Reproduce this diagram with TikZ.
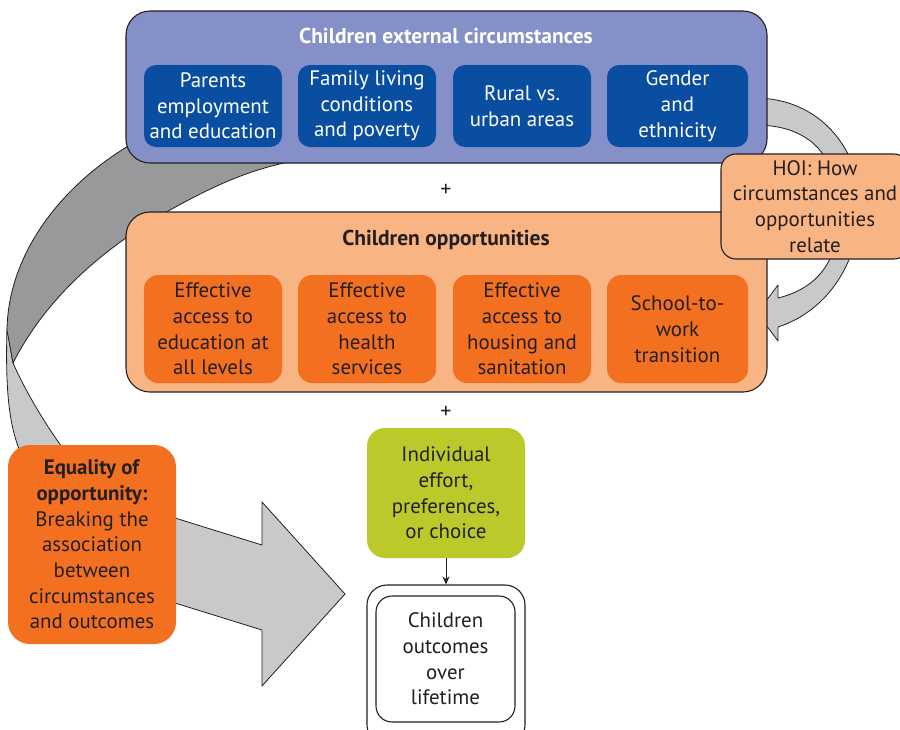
\documentclass[tikz,border=0pt]{standalone}
\usepackage{fontspec}
\setmainfont{PT Sans}
\usetikzlibrary{arrows.meta}
\definecolor{bluebg}{HTML}{8590C8}
\definecolor{blueinner}{HTML}{0A4EA2}
\definecolor{peach}{HTML}{F9B483}
\definecolor{orng}{HTML}{F37021}
\definecolor{lime}{HTML}{BCC92A}
\definecolor{dgray}{HTML}{98999B}
\definecolor{lgray}{HTML}{C8C9CB}
\definecolor{ink}{HTML}{231F20}
\begin{document}
\begin{tikzpicture}[x=1pt,y=-1pt,
  txt/.style={font=\fontsize{20.9}{25.7}\selectfont, align=center, text=ink, inner sep=0pt},
  ttl/.style={font=\fontsize{21.5}{24}\selectfont\bfseries, inner sep=0pt},
  bigbox/.style={draw=ink, line width=1.1pt, rounded corners=24pt, inner sep=0pt},
  bluecell/.style={txt, text=white, fill=blueinner, rounded corners=12pt, minimum width=138pt, minimum height=82pt},
  orcell/.style={txt, fill=orng, rounded corners=14pt, minimum width=138pt, minimum height=108pt},
  ribbon/.style={draw=ink, line width=0.8pt, line join=round},
  plussign/.style={font=\fontsize{22}{24}\selectfont, text=ink, inner sep=0pt}
]
\useasboundingbox (0,0) rectangle (900,729);
\fill[white] (0,0) rectangle (900,729);

% right curved arrow (behind boxes)
\path[ribbon, fill=lgray] (755,98) .. controls (820,98) and (862,150) .. (860,210)
  .. controls (858,260) and (830,310) .. (778,327) -- (778,341) -- (757,313) -- (778,285) -- (778,298)
  .. controls (810,290) and (835,270) .. (838,225)
  .. controls (842,170) and (822,125) .. (755,125) -- cycle;

% left ribbon: light (front) part with arrow head
\path[ribbon, fill=lgray] (7,328) .. controls (5,400) and (10,440) .. (30,470) -- (175,518) -- (262,545)
  -- (262,502) -- (345,594) -- (262,686) -- (262,630) -- (175,603) -- (70,458)
  .. controls (45,425) and (25,390) .. (13,363) -- cycle;
% left ribbon: dark (back) part
\path[ribbon, fill=dgray] (200,118) -- (135,142) .. controls (60,185) and (8,255) .. (7,330)
  -- (13,363) .. controls (45,300) and (100,250) .. (170,210)
  .. controls (210,188) and (250,168) .. (300,160) -- (300,120) -- cycle;

% external circumstances
\node[bigbox, fill=bluebg, minimum width=641pt, minimum height=152pt] (ext) at (446.5,87) {};
\node[ttl, text=white] (extt) at (446,36) {Children external circumstances};
\node[bluecell] (c1) at (213,106) {Parents\\employment\\and education};
\node[bluecell] (c2) at (367,106) {Family living\\conditions\\and poverty};
\node[bluecell] (c3) at (522,106) {Rural vs.\\urban areas};
\node[bluecell, minimum width=141pt] (c4) at (677.5,106) {Gender\\and\\ethnicity};

\node[plussign] (plus1) at (446,190.5) {+};

% opportunities
\node[bigbox, fill=peach, minimum width=641pt, minimum height=180pt] (opp) at (446.5,302) {};
\node[ttl, text=ink] (oppt) at (446,240) {Children opportunities};
\node[orcell] (o1) at (213,329) {Effective\\access to\\education at\\all levels};
\node[orcell] (o2) at (367,329) {Effective\\access to\\health\\services};
\node[orcell] (o3) at (522,329) {Effective\\access to\\housing and\\sanitation};
\node[orcell, minimum width=141pt] (o4) at (677.5,329) {School-to-\\work\\transition};

% HOI
\node[txt, draw=ink, line width=1.1pt, fill=peach, rounded corners=15pt, minimum width=188pt, minimum height=105pt] (hoi) at (815,206.5) {HOI: How\\circumstances and\\opportunities\\relate};

\node[plussign] (plus2) at (446,412) {+};

% individual effort
\node[txt, fill=lime, rounded corners=18pt, minimum width=158pt, minimum height=130pt] (eff) at (446,493) {Individual\\effort,\\preferences,\\or choice};

% outcomes (double border)
\node[draw=ink, line width=1.1pt, fill=white, rounded corners=20pt, minimum width=158pt, minimum height=160pt, inner sep=0pt] (outo) at (446,665) {};
\node[txt, draw=ink, line width=1.1pt, rounded corners=16pt, minimum width=139pt, minimum height=126pt] (out) at (445.5,659) {Children\\outcomes\\over\\lifetime};

\draw[ink, line width=1pt, -{Stealth[length=8pt,width=7pt]}] (eff.south) -- (outo.north);

% equality of opportunity
\node[txt, fill=orng, rounded corners=22pt, minimum width=168pt, minimum height=199pt] (eq) at (92,544.5) {\textbf{Equality of}\\\textbf{opportunity:}\\Breaking the\\association\\between\\circumstances\\and outcomes};
\end{tikzpicture}
\end{document}
